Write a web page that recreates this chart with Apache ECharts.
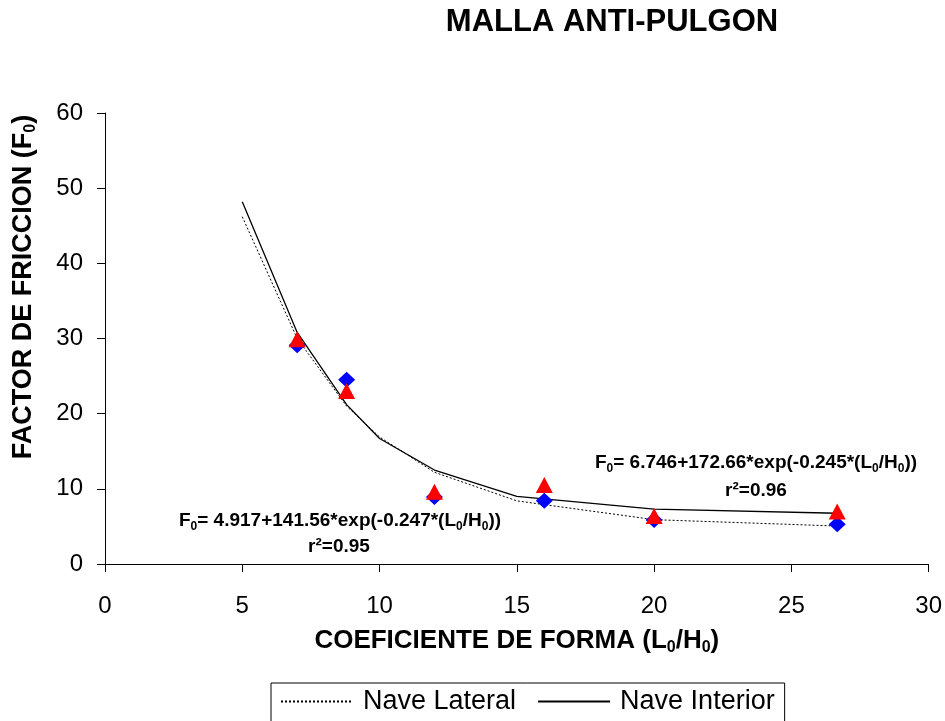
<!DOCTYPE html>
<html>
<head>
<meta charset="utf-8">
<script src="https://cdn.jsdelivr.net/npm/echarts@6/dist/echarts.min.js"></script>
<style>
  html, body { margin: 0; padding: 0; background: #fff; }
  #chart { width: 945px; height: 721px; }
</style>
</head>
<body>
<div id="chart"></div>
<script>
// Measured points (L0/H0 vs friction factor)
const shapeCoef = [7, 8.8, 12, 16, 20, 26.67];
const lateralObs = [29.1, 24.5, 8.9, 8.4, 5.85, 5.3];
const interiorObs = [29.9, 23.0, 9.6, 10.5, 6.4, 7.0];

// Fitted curves, sampled at these abscissas
const fitX = [5, 7, 8.8, 10, 12, 15, 20, 26.67];
const lateralFit = [46.2, 30.0, 21.0, 16.9, 12.2, 8.4, 5.9, 5.05];
const interiorFit = [48.2, 30.8, 21.2, 16.7, 12.5, 9.0, 7.3, 6.75];

const xTicks = { min: 0, max: 30, interval: 5 };
const yTicks = { min: 0, max: 60, interval: 10 };

const FONT = "'Liberation Sans', Arial, Helvetica, sans-serif";

const pairs = (xs, ys) => xs.map((x, i) => [x, ys[i]]);

const eqRich = {
  b: { fontFamily: FONT, fontWeight: 'bold', fontSize: 19, color: '#000', lineHeight: 24 },
  s: { fontFamily: FONT, fontWeight: 'bold', fontSize: 12, color: '#000', lineHeight: 12, verticalAlign: 'bottom' }
};

const chart = echarts.init(document.getElementById('chart'), null, { renderer: 'canvas' });

chart.setOption({
  animation: false,
  backgroundColor: '#fff',
  grid: { left: 105, right: 16, top: 113, bottom: 157, containLabel: false },
  xAxis: {
    type: 'value',
    min: xTicks.min, max: xTicks.max, interval: xTicks.interval,
    name: '{b|COEFICIENTE DE FORMA (L}{s|0}{b|/H}{s|0}{b|)}',
    nameLocation: 'middle',
    nameGap: 62,
    nameTextStyle: {
      rich: {
        b: { fontFamily: FONT, fontWeight: 'bold', fontSize: 26, color: '#000', lineHeight: 30 },
        s: { fontFamily: FONT, fontWeight: 'bold', fontSize: 16, color: '#000', lineHeight: 16, verticalAlign: 'bottom' }
      }
    },
    axisLine: { lineStyle: { color: '#000', width: 1 } },
    axisTick: { show: true, inside: false, length: 8, lineStyle: { color: '#000' } },
    axisLabel: { fontFamily: FONT, fontSize: 24, color: '#000', margin: 30 },
    splitLine: { show: false }
  },
  yAxis: {
    type: 'value',
    min: yTicks.min, max: yTicks.max, interval: yTicks.interval,
    axisLine: { show: true, lineStyle: { color: '#000', width: 1 } },
    axisTick: { show: true, inside: false, length: 8, lineStyle: { color: '#000' } },
    axisLabel: { fontFamily: FONT, fontSize: 24, color: '#000', margin: 22 },
    splitLine: { show: false }
  },
  legend: {
    data: ['Nave Lateral', 'Nave Interior'],
    left: 271,
    top: 683,
    orient: 'horizontal',
    itemWidth: 72,
    itemHeight: 14,
    itemGap: 21,
    padding: [5, 10, 20, 9],
    borderColor: '#000',
    borderWidth: 1,
    backgroundColor: '#fff',
    selectedMode: false,
    itemStyle: { opacity: 0 },
    textStyle: { fontFamily: FONT, fontSize: 27, color: '#000', padding: [0, 0, 0, 5] }
  },
  graphic: [
    {
      type: 'text',
      style: {
        x: 612, y: 22, text: 'MALLA ANTI-PULGON',
        fontFamily: FONT, fontWeight: 'bold', fontSize: 31, fill: '#000',
        align: 'center', verticalAlign: 'middle'
      }
    },
    {
      type: 'text',
      x: 24, y: 287, rotation: Math.PI / 2,
      style: {
        x: 0, y: 0,
        text: '{b|FACTOR DE FRICCION (F}{s|0}{b|)}',
        rich: {
          b: { fontFamily: FONT, fontWeight: 'bold', fontSize: 27, fill: '#000', lineHeight: 30 },
          s: { fontFamily: FONT, fontWeight: 'bold', fontSize: 16, fill: '#000', lineHeight: 16, verticalAlign: 'bottom' }
        },
        align: 'center', verticalAlign: 'middle'
      }
    },
    {
      type: 'text',
      style: {
        x: 340, y: 521,
        text: '{b|F}{s|0}{b|= 4.917+141.56*exp(-0.247*(L}{s|0}{b|/H}{s|0}{b|))}',
        rich: eqRich, align: 'center', verticalAlign: 'middle'
      }
    },
    {
      type: 'text',
      style: {
        x: 339, y: 547, text: '{b|r²=0.95}',
        rich: eqRich, align: 'center', verticalAlign: 'middle'
      }
    },
    {
      type: 'text',
      style: {
        x: 756, y: 463,
        text: '{b|F}{s|0}{b|= 6.746+172.66*exp(-0.245*(L}{s|0}{b|/H}{s|0}{b|))}',
        rich: eqRich, align: 'center', verticalAlign: 'middle'
      }
    },
    {
      type: 'text',
      style: {
        x: 756, y: 491, text: '{b|r²=0.96}',
        rich: eqRich, align: 'center', verticalAlign: 'middle'
      }
    }
  ],
  series: [
    {
      name: 'Nave Lateral',
      type: 'line',
      data: pairs(fitX, lateralFit),
      symbol: 'none',
      showSymbol: false,
      lineStyle: { color: '#000', width: 1, type: [2, 2] },
      itemStyle: { color: '#000' },
      z: 2
    },
    {
      name: 'Nave Interior',
      type: 'line',
      data: pairs(fitX, interiorFit),
      symbol: 'none',
      showSymbol: false,
      lineStyle: { color: '#000', width: 1.3 },
      itemStyle: { color: '#000' },
      z: 2
    },
    {
      name: 'Lateral medido',
      type: 'scatter',
      data: pairs(shapeCoef, lateralObs),
      symbol: 'diamond',
      symbolSize: [17, 16],
      itemStyle: { color: '#0000FF', opacity: 1 },
      z: 3
    },
    {
      name: 'Interior medido',
      type: 'scatter',
      data: pairs(shapeCoef, interiorObs),
      symbol: 'triangle',
      symbolSize: [17, 16],
      itemStyle: { color: '#FF0000', opacity: 1 },
      z: 4
    }
  ]
});
</script>
</body>
</html>
